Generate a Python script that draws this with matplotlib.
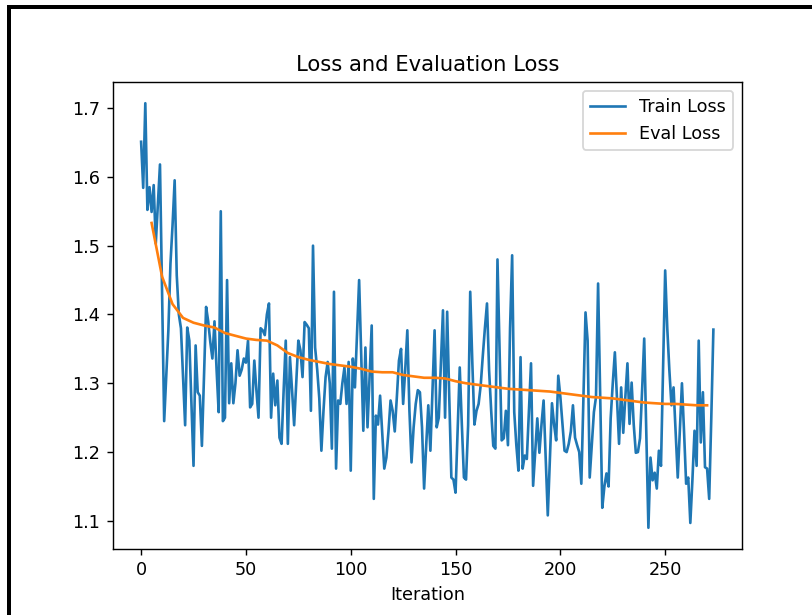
import matplotlib
matplotlib.use("Agg")
import matplotlib.pyplot as plt
from matplotlib.patches import Rectangle

# training loss, one value per iteration
train_loss = [
    1.651, 1.584, 1.707, 1.552, 1.585, 1.549, 1.588, 1.503, 1.560, 1.618,
    1.430, 1.245, 1.310, 1.377, 1.474, 1.530, 1.595, 1.457, 1.400, 1.380,
    1.310, 1.239, 1.381, 1.362, 1.270, 1.180, 1.355, 1.287, 1.282, 1.209,
    1.310, 1.411, 1.390, 1.360, 1.336, 1.390, 1.320, 1.258, 1.550, 1.245,
    1.250, 1.450, 1.271, 1.329, 1.271, 1.300, 1.348, 1.311, 1.320, 1.336,
    1.330, 1.362, 1.265, 1.270, 1.333, 1.290, 1.250, 1.380, 1.377, 1.370,
    1.400, 1.416, 1.250, 1.314, 1.268, 1.304, 1.221, 1.212, 1.290, 1.362,
    1.212, 1.338, 1.290, 1.239, 1.300, 1.362, 1.348, 1.309, 1.389, 1.385,
    1.380, 1.260, 1.500, 1.352, 1.320, 1.278, 1.202, 1.260, 1.309, 1.331,
    1.300, 1.205, 1.433, 1.176, 1.275, 1.270, 1.300, 1.323, 1.270, 1.331,
    1.173, 1.336, 1.294, 1.370, 1.450, 1.340, 1.231, 1.352, 1.236, 1.310,
    1.384, 1.132, 1.253, 1.240, 1.282, 1.230, 1.176, 1.192, 1.230, 1.275,
    1.260, 1.230, 1.280, 1.333, 1.350, 1.270, 1.320, 1.377, 1.260, 1.185,
    1.236, 1.270, 1.290, 1.287, 1.236, 1.147, 1.210, 1.268, 1.202, 1.290,
    1.377, 1.236, 1.250, 1.330, 1.406, 1.250, 1.404, 1.280, 1.163, 1.160,
    1.141, 1.230, 1.323, 1.240, 1.163, 1.160, 1.239, 1.433, 1.330, 1.240,
    1.260, 1.270, 1.297, 1.340, 1.380, 1.416, 1.319, 1.260, 1.209, 1.205,
    1.480, 1.350, 1.217, 1.220, 1.260, 1.210, 1.380, 1.486, 1.258, 1.210,
    1.173, 1.338, 1.176, 1.195, 1.190, 1.260, 1.329, 1.151, 1.200, 1.249,
    1.199, 1.240, 1.275, 1.190, 1.108, 1.190, 1.271, 1.240, 1.217, 1.311,
    1.280, 1.240, 1.202, 1.200, 1.212, 1.230, 1.268, 1.221, 1.210, 1.200,
    1.154, 1.280, 1.403, 1.362, 1.163, 1.210, 1.258, 1.280, 1.445, 1.280,
    1.119, 1.150, 1.169, 1.150, 1.249, 1.300, 1.345, 1.280, 1.212, 1.294,
    1.228, 1.280, 1.329, 1.241, 1.301, 1.240, 1.199, 1.200, 1.220, 1.290,
    1.365, 1.230, 1.090, 1.192, 1.159, 1.170, 1.147, 1.202, 1.180, 1.320,
    1.464, 1.380, 1.319, 1.268, 1.294, 1.230, 1.163, 1.230, 1.300, 1.230,
    1.154, 1.163, 1.097, 1.160, 1.231, 1.180, 1.362, 1.214, 1.287, 1.178,
    1.176, 1.132, 1.250, 1.378,
]
train_steps = list(range(len(train_loss)))

# eval loss, every 5 iterations
eval_steps = list(range(5, 271, 5))
eval_loss = [
    1.533, 1.455, 1.415, 1.395, 1.388, 1.384, 1.381, 1.373, 1.369, 1.365,
    1.363, 1.362, 1.355, 1.344, 1.338, 1.334, 1.331, 1.328, 1.326, 1.324,
    1.321, 1.317, 1.316, 1.316, 1.312, 1.310, 1.308, 1.308, 1.307, 1.303,
    1.300, 1.298, 1.296, 1.294, 1.292, 1.291, 1.290, 1.289, 1.288, 1.286,
    1.284, 1.282, 1.280, 1.279, 1.278, 1.276, 1.274, 1.272, 1.271, 1.270,
    1.270, 1.269, 1.268, 1.268,
]

dpi = 127
fig = plt.figure(figsize=(812 / dpi, 615 / dpi), dpi=dpi)
ax = fig.add_axes([112.5 / 812, 1 - 549 / 615, 629.5 / 812, 467 / 615])

ax.plot(train_steps, train_loss, label='Train Loss')
ax.plot(eval_steps, eval_loss, label='Eval Loss')
ax.set_title('Loss and Evaluation Loss')
ax.set_xlabel('Iteration')
ax.legend(loc='upper right')

# black screenshot frame on the top and left edges
fig.add_artist(Rectangle((7 / 812, 1 - 9 / 615), 1, 4 / 615,
                         transform=fig.transFigure, color='black', lw=0))
fig.add_artist(Rectangle((7 / 812, 0), 3.5 / 812, 1 - 5 / 615,
                         transform=fig.transFigure, color='black', lw=0))

fig.savefig('out.png', dpi=dpi)
